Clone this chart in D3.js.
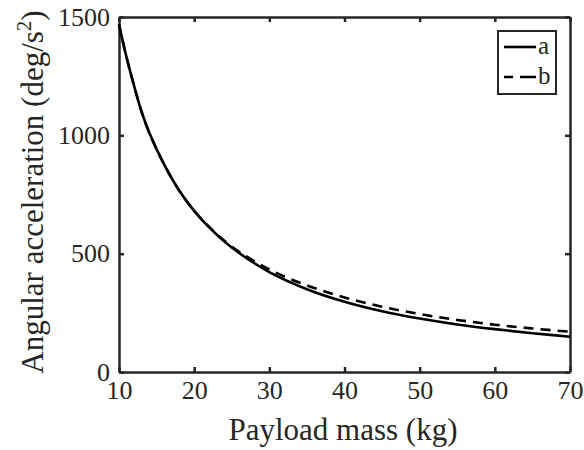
<!DOCTYPE html>
<html>
<head>
<meta charset="utf-8">
<script src="https://cdn.jsdelivr.net/npm/d3@7"></script>
<style>
  body { margin: 0; background: #fff; }
  text { font-family: "Liberation Serif", "Times New Roman", serif; fill: #262626; }
</style>
</head>
<body>
<div id="plot"></div>
<script>
// payload mass (kg) vs angular acceleration (deg/s^2)
var massA = [10, 11, 12, 13, 14, 16, 18, 20, 22, 25, 30, 35, 40, 45, 50, 55, 60, 65, 70];
var accA  = [1468, 1330, 1210, 1100, 1013, 877, 767, 681, 611, 526, 422, 350, 297, 257, 226, 201, 181, 164, 149];

var massB = [10, 11, 12, 13, 14, 16, 18, 20, 22, 25, 30, 35, 40, 45, 50, 55, 60, 65, 70];
var accB  = [1468, 1330, 1210, 1100, 1013, 877, 767, 681, 613, 530, 433, 366, 315, 276, 245, 220, 200, 184, 170];

var xTicks = [10, 20, 30, 40, 50, 60, 70];
var yTicks = [0, 500, 1000, 1500];

var margin = { top: 17, right: 14, bottom: 78, left: 119 },
	width = 584 - margin.left - margin.right, height = 450 - margin.top - margin.bottom;

var svg = d3.select("#plot")
	.append("svg")
	.attr("width", 584)
	.attr("height", 450);

var g = svg.append("g")
	.attr("transform", "translate(" + margin.left + "," + margin.top + ")");

var xScale = d3.scaleLinear().domain([10, 70]).range([0, width]);
var yScale = d3.scaleLinear().domain([0, 1500]).range([height, 0]);

var axisColour = "#262626";

//axes with inward ticks, box style
function styleAxis(sel, showText) {
	sel.attr("font-family", null);
	sel.select(".domain").attr("stroke", axisColour).attr("stroke-width", 2.5);
	sel.selectAll(".tick line").attr("stroke", axisColour).attr("stroke-width", 2.5);
	sel.selectAll(".tick text").style("font-size", "26px").attr("fill", axisColour);
	if (!showText) sel.selectAll(".tick text").remove();
}

g.append("g")
	.attr("transform", "translate(0," + height + ")")
	.call(d3.axisBottom(xScale).tickValues(xTicks).tickFormat(d3.format("d")).tickSize(-5).tickSizeOuter(0).tickPadding(9))
	.call(styleAxis, true);

g.append("g")
	.call(d3.axisTop(xScale).tickValues(xTicks).tickSize(-5).tickSizeOuter(0))
	.call(styleAxis, false);

g.append("g")
	.call(d3.axisLeft(yScale).tickValues(yTicks).tickFormat(d3.format("d")).tickSize(-5).tickSizeOuter(0).tickPadding(9))
	.call(styleAxis, true);

g.append("g")
	.attr("transform", "translate(" + width + ",0)")
	.call(d3.axisRight(yScale).tickValues(yTicks).tickSize(-5).tickSizeOuter(0))
	.call(styleAxis, false);

//curves
var line = d3.line()
	.x(function (d) { return xScale(d[0]); })
	.y(function (d) { return yScale(d[1]); })
	.curve(d3.curveCatmullRom);

var dataA = massA.map(function (m, i) { return [m, accA[i]]; });
var dataB = massB.map(function (m, i) { return [m, accB[i]]; });

g.append("path")
	.datum(dataB)
	.attr("d", line)
	.attr("fill", "none")
	.attr("stroke", "#000")
	.attr("stroke-width", 2.6)
	.attr("stroke-dasharray", "10,7");

g.append("path")
	.datum(dataA)
	.attr("d", line)
	.attr("fill", "none")
	.attr("stroke", "#000")
	.attr("stroke-width", 2.6);

//axis titles
svg.append("text")
	.attr("x", 343)
	.attr("y", 440)
	.attr("text-anchor", "middle")
	.style("font-size", "31px")
	.text("Payload mass (kg)");

var yTitle = svg.append("text")
	.attr("transform", "translate(43,192) rotate(-90)")
	.attr("text-anchor", "middle")
	.style("font-size", "31px");
yTitle.append("tspan").text("Angular acceleration (deg/s");
yTitle.append("tspan").attr("dy", -12).style("font-size", "21px").text("2");
yTitle.append("tspan").attr("dy", 12).text(")");

//legend
var legend = svg.append("g").attr("transform", "translate(498,31)");
legend.append("rect")
	.attr("width", 58).attr("height", 63)
	.attr("fill", "#fff").attr("stroke", axisColour).attr("stroke-width", 2);

var legendItems = [{ key: "a", dash: null, y: 16 }, { key: "b", dash: "9,7,16", y: 46 }];
legendItems.forEach(function (it) {
	legend.append("line")
		.attr("x1", 6).attr("x2", 38)
		.attr("y1", it.y).attr("y2", it.y)
		.attr("stroke", "#000").attr("stroke-width", 2.6)
		.attr("stroke-dasharray", it.dash);
	legend.append("text")
		.attr("x", 40).attr("y", it.y + 7)
		.style("font-size", "25px")
		.text(it.key);
});
</script>
</body>
</html>
